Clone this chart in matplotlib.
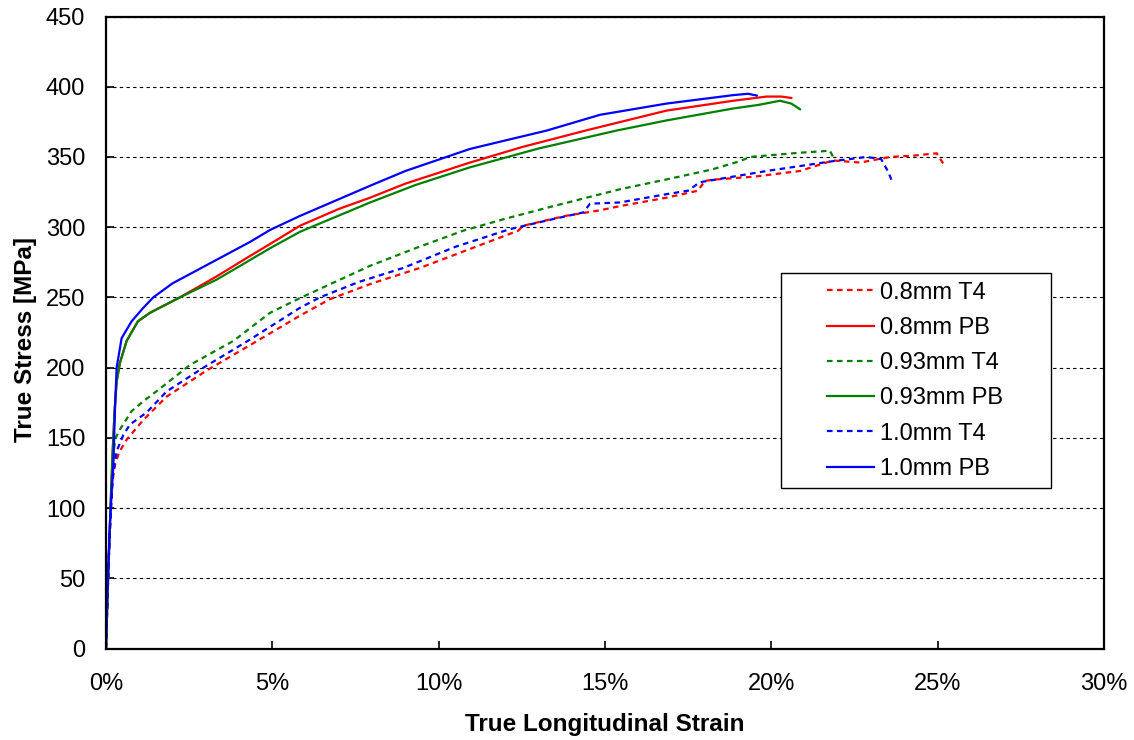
import matplotlib
matplotlib.use("Agg")
import matplotlib.pyplot as plt
from matplotlib.ticker import FuncFormatter, MultipleLocator
from matplotlib.patches import Rectangle

plt.rcParams['font.family'] = ['Liberation Sans', 'DejaVu Sans']

# ---- data (strain in %, stress in MPa) ----
t4_08_x = [0, 0.05, 0.1, 0.15, 0.2, 0.27, 0.4, 0.62, 1.12, 1.82, 3.03, 4.33, 5.83, 6.73,
           8.0, 9.44, 11.0, 12.39, 12.54, 13.8, 14.85, 15.45, 16.85, 17.8, 18.0, 18.36,
           19.5, 20.86, 21.85, 22.67, 23.57, 24.3, 24.97, 25.2]
t4_08_y = [0, 40, 75, 100, 120, 131, 140, 148.7, 162.7, 179.3, 198, 216, 237, 248.7,
           260, 271, 285, 297.5, 301, 308, 312, 315, 321, 326, 333, 334,
           336, 340, 347.5, 346, 350, 351, 352.6, 344]

pb_08_x = [0, 0.05, 0.1, 0.15, 0.2, 0.26, 0.32, 0.42, 0.62, 0.96, 1.32, 2.22, 3.33, 4.33,
           4.93, 5.83, 7.0, 7.94, 9.0, 10.94, 12.5, 14.45, 16.85, 18.85, 19.86, 20.3, 20.6]
pb_08_y = [0, 40, 75, 110, 140, 170, 190, 203.5, 219, 233, 239, 250, 265, 279.5,
           288, 301, 313, 321, 331, 346, 357, 369, 383, 390, 393, 393, 392]

t4_093_x = [0, 0.05, 0.1, 0.15, 0.2, 0.27, 0.42, 0.77, 1.12, 1.62, 2.53, 3.83, 4.93, 5.83,
            7.94, 9.3, 10.74, 12.0, 13.45, 15.45, 16.85, 18.2, 19.06, 19.36, 20.86, 21.5,
            21.76, 21.9]
t4_093_y = [0, 40, 75, 105, 130, 149, 156, 169, 176, 185, 202, 219, 239, 249.5,
            272.5, 285, 297.5, 306, 315, 327, 334, 341, 347, 350, 353, 354,
            354.5, 348]

pb_093_x = [0, 0.05, 0.1, 0.15, 0.2, 0.26, 0.32, 0.42, 0.62, 0.96, 1.32, 2.22, 3.33, 4.33,
            4.93, 5.83, 7.94, 9.3, 10.94, 13.0, 15.35, 16.85, 18.85, 19.6, 20.26, 20.6, 20.86]
pb_093_y = [0, 40, 75, 110, 140, 170, 190, 203.5, 219, 233, 239, 250, 262.7, 276.6,
            285, 296.7, 317.6, 330, 342.6, 356, 368.8, 376, 384.5, 387, 390, 388, 384]

t4_10_x = [0, 0.05, 0.1, 0.15, 0.2, 0.32, 0.52, 0.72, 1.22, 1.82, 2.93, 4.33, 5.83, 6.43,
           7.6, 8.94, 10.5, 12.14, 13.3, 14.35, 14.55, 15.45, 16.85, 17.5, 17.85, 19.86,
           21.85, 22.86, 23.3, 23.5, 23.66]
t4_10_y = [0, 40, 75, 100, 122, 140.5, 152, 159.5, 168, 183, 200, 220, 242.6, 250,
           261, 271, 286, 298.6, 305, 310.5, 316.7, 317.6, 323.5, 326, 332, 340,
           347, 350, 348.5, 340, 331]

pb_10_x = [0, 0.03, 0.07, 0.12, 0.18, 0.22, 0.27, 0.32, 0.47, 0.77, 1.1, 1.42, 2.0, 2.83,
           4.33, 4.93, 5.83, 7.94, 9.0, 10.94, 13.25, 14.85, 16.85, 18.85, 19.3, 19.56]
pb_10_y = [0, 30, 60, 90, 115, 130, 170, 200, 221, 233, 242, 250, 260, 270.5,
           289.5, 298, 308, 329.5, 340, 355.7, 368.8, 380, 388, 394, 395, 393.7]

labels = ['0.8mm T4', '0.8mm PB', '0.93mm T4', '0.93mm PB', '1.0mm T4', '1.0mm PB']
colors = ['#ff0000', '#ff0000', '#008000', '#008000', '#0000ff', '#0000ff']
series = [(t4_08_x, t4_08_y), (pb_08_x, pb_08_y), (t4_093_x, t4_093_y),
          (pb_093_x, pb_093_y), (t4_10_x, t4_10_y), (pb_10_x, pb_10_y)]

W, H = 1134, 740
fig = plt.figure(figsize=(W / 100, H / 100), dpi=100)
ax_l, ax_r, ax_t, ax_b = 106, 1104, 16.5, 648.5
ax = fig.add_axes([ax_l / W, 1 - ax_b / H, (ax_r - ax_l) / W, (ax_b - ax_t) / H])

for i, ((x, y), lab, col) in enumerate(zip(series, labels, colors)):
    xs = [v / 100.0 for v in x]
    ls = (0, (2.5, 2.0)) if i % 2 == 0 else '-'
    ax.plot(xs, y, color=col, lw=1.6, linestyle=ls, label=lab)

ax.set_xlim(0, 0.30)
ax.set_ylim(0, 450)
ax.xaxis.set_major_locator(MultipleLocator(0.05))
ax.yaxis.set_major_locator(MultipleLocator(50))
ax.xaxis.set_major_formatter(FuncFormatter(lambda v, p: f"{v*100:.0f}%"))
ax.tick_params(direction='in', length=6, width=1.2, labelsize=17)
ax.tick_params(axis='x', pad=18)
ax.tick_params(axis='y', pad=15)
for s in ax.spines.values():
    s.set_linewidth(1.6)
    s.set_color('black')
ax.grid(axis='y', color='black', linestyle=(0, (3, 3)), lw=0.8)
ax.set_axisbelow(True)

fig.text(605 / W, 1 - 731 / H, 'True Longitudinal Strain', fontsize=17.5,
         fontweight='bold', ha='center', va='baseline')
fig.text(32.3 / W, 1 - 340 / H, 'True Stress [MPa]', fontsize=17.5, fontweight='bold',
         ha='center', va='baseline', rotation=90, rotation_mode='anchor')

# legend box and entries
bx0, bx1, by0, by1 = 780.7, 1051, 273.3, 487.7
def ax_x(px):
    return (px - ax_l) / (ax_r - ax_l)
def ax_y(py):
    return (ax_b - py) / (ax_b - ax_t)
ax.add_patch(Rectangle((ax_x(bx0), ax_y(by1)), ax_x(bx1) - ax_x(bx0), ax_y(by0) - ax_y(by1),
                       transform=ax.transAxes, facecolor='white', edgecolor='black',
                       lw=1.0, zorder=4))
leg = ax.legend(loc='center left', bbox_to_anchor=(ax_x(826.7), ax_y(380.8)), fontsize=17,
                frameon=False, handlelength=2.0, handletextpad=0.25,
                labelspacing=0.56, borderpad=0, borderaxespad=0)
leg.set_zorder(5)

fig.savefig('out.png', dpi=100)
